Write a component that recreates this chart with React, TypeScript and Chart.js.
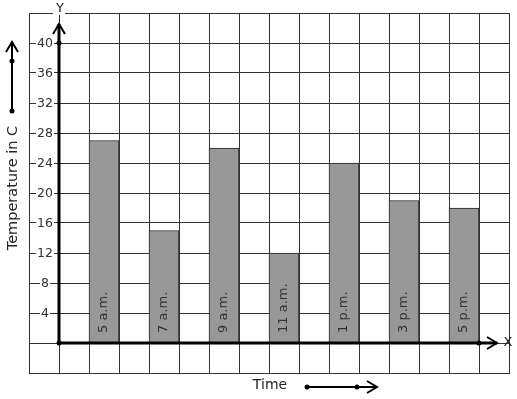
import React, { useEffect, useRef } from "react";
import { Chart, registerables } from "chart.js";

Chart.register(...registerables);

const times = ["5 a.m.", "7 a.m.", "9 a.m.", "11 a.m.", "1 p.m.", "3 p.m.", "5 p.m."];
const temperatures = [27, 15, 26, 12, 24, 19, 18];
const yTickLabels = [4, 8, 12, 16, 20, 24, 28, 32, 36, 40];
const yMin = -4;
const yMax = 44;
const yStep = 4;
const xTitle = "Time";
const yTitle = "Temperature in C";

// 16 grid columns: two leading, then each time slot followed by a gap
const columns: string[] = ["", ""];
const columnValues: (number | null)[] = [null, null];
times.forEach((t, i) => {
  columns.push(t, "");
  columnValues.push(temperatures[i], null);
});

const FONT = "DejaVu Sans, sans-serif";

function chevronUp(ctx: CanvasRenderingContext2D, x: number, y: number) {
  ctx.beginPath();
  ctx.moveTo(x - 6, y + 10);
  ctx.lineTo(x, y);
  ctx.lineTo(x + 6, y + 10);
  ctx.stroke();
}
function chevronRight(ctx: CanvasRenderingContext2D, x: number, y: number) {
  ctx.beginPath();
  ctx.moveTo(x - 10, y - 6);
  ctx.lineTo(x, y);
  ctx.lineTo(x - 10, y + 6);
  ctx.stroke();
}
function dot(ctx: CanvasRenderingContext2D, x: number, y: number) {
  ctx.beginPath();
  ctx.arc(x, y, 2.5, 0, Math.PI * 2);
  ctx.fill();
}

const overlay = {
  id: "overlay",
  afterDatasetsDraw(chart: any) {
    const ctx: CanvasRenderingContext2D = chart.ctx;
    const xs = chart.scales.x;
    const ys = chart.scales.y;
    const area = chart.chartArea;
    const axisX = (xs.getPixelForValue(0) + xs.getPixelForValue(1)) / 2;
    const originY = ys.getPixelForValue(0);
    const colW = xs.getPixelForValue(1) - xs.getPixelForValue(0);
    ctx.save();

    // y tick labels with white background
    ctx.font = `12.5px ${FONT}`;
    ctx.textAlign = "center";
    ctx.textBaseline = "middle";
    const labelX = axisX - colW / 2 + 1;
    yTickLabels.forEach((v) => {
      const y = ys.getPixelForValue(v);
      const w = ctx.measureText(String(v)).width;
      ctx.fillStyle = "#fff";
      ctx.fillRect(labelX - w / 2 - 1, y - 6, w + 2, 12);
      ctx.fillStyle = "#333";
      ctx.fillText(String(v), labelX, y + 1);
    });

    // bar labels
    const meta = chart.getDatasetMeta(0);
    meta.data.forEach((bar: any, i: number) => {
      const label = columns[i];
      if (!label || columnValues[i] == null) return;
      ctx.save();
      ctx.translate(bar.x, originY - 10);
      ctx.rotate(-Math.PI / 2);
      ctx.font = `13px ${FONT}`;
      ctx.fillStyle = "#333";
      ctx.textAlign = "left";
      ctx.textBaseline = "middle";
      ctx.fillText(label, 0, 0);
      ctx.restore();
    });

    // axes
    ctx.strokeStyle = "#000";
    ctx.fillStyle = "#000";
    ctx.lineWidth = 3;
    const yTop = area.top + 11;
    ctx.beginPath();
    ctx.moveTo(axisX, originY);
    ctx.lineTo(axisX, yTop);
    ctx.stroke();
    ctx.lineWidth = 2;
    chevronUp(ctx, axisX, yTop);
    const xEnd = area.right - 12;
    ctx.lineWidth = 3;
    ctx.beginPath();
    ctx.moveTo(axisX, originY);
    ctx.lineTo(xEnd, originY);
    ctx.stroke();
    ctx.lineWidth = 2;
    chevronRight(ctx, xEnd, originY);
    dot(ctx, axisX, originY);
    dot(ctx, axisX, ys.getPixelForValue(40));
    const lastBar = meta.data[columns.length - 2];
    dot(ctx, lastBar.x + colW / 2, originY);

    // axis letters
    ctx.font = `13px ${FONT}`;
    ctx.textAlign = "center";
    ctx.textBaseline = "middle";
    ctx.fillStyle = "#fff";
    ctx.fillRect(axisX - 6, area.top - 2, 12, 4);
    ctx.fillStyle = "#222";
    ctx.fillText("Y", axisX + 1, area.top - 4);
    ctx.fillText("X", area.right - 1, originY);

    // y title
    ctx.save();
    ctx.translate(13, 188);
    ctx.rotate(-Math.PI / 2);
    ctx.font = `14.5px ${FONT}`;
    ctx.fillStyle = "#222";
    ctx.fillText(yTitle, 0, 0);
    ctx.restore();

    // x title
    ctx.font = `14px ${FONT}`;
    ctx.fillText(xTitle, 270, 385);

    // decorative arrows
    ctx.strokeStyle = "#000";
    ctx.fillStyle = "#000";
    ctx.lineWidth = 2;
    ctx.beginPath();
    ctx.moveTo(12, 111);
    ctx.lineTo(12, 43);
    ctx.stroke();
    chevronUp(ctx, 12, 42);
    dot(ctx, 12, 111);
    dot(ctx, 12, 61);
    ctx.beginPath();
    ctx.moveTo(307, 387);
    ctx.lineTo(376, 387);
    ctx.stroke();
    chevronRight(ctx, 377, 387);
    dot(ctx, 307, 387);
    dot(ctx, 357, 387);

    ctx.restore();
  },
};

export default function App() {
  const ref = useRef<HTMLCanvasElement>(null);
  useEffect(() => {
    if (!ref.current) return;
    const chart = new Chart(ref.current, {
      type: "bar",
      data: {
        labels: columns,
        datasets: [
          {
            data: columnValues,
            backgroundColor: "#989898",
            borderColor: "#222",
            borderWidth: 1,
            categoryPercentage: 1,
            barPercentage: 1,
          },
        ],
      },
      options: {
        responsive: false,
        animation: false,
        layout: { padding: { left: 29, right: 8, top: 13, bottom: 26 } },
        plugins: { legend: { display: false }, tooltip: { enabled: false } },
        scales: {
          x: {
            grid: { color: "#333", lineWidth: 1, drawTicks: false, offset: true },
            border: { color: "#333", width: 1 },
            ticks: { display: false },
          },
          y: {
            min: yMin,
            max: yMax,
            ticks: { display: false, stepSize: yStep },
            grid: { color: "#333", lineWidth: 1, drawTicks: false },
            border: { color: "#333", width: 1 },
          },
        },
      },
      plugins: [overlay],
    });
    return () => chart.destroy();
  }, []);
  return (
    <div style={{ position: "absolute", left: 0, top: 0, width: 517, height: 399, background: "#fff" }}>
      <canvas ref={ref} width={517} height={399} />
    </div>
  );
}
